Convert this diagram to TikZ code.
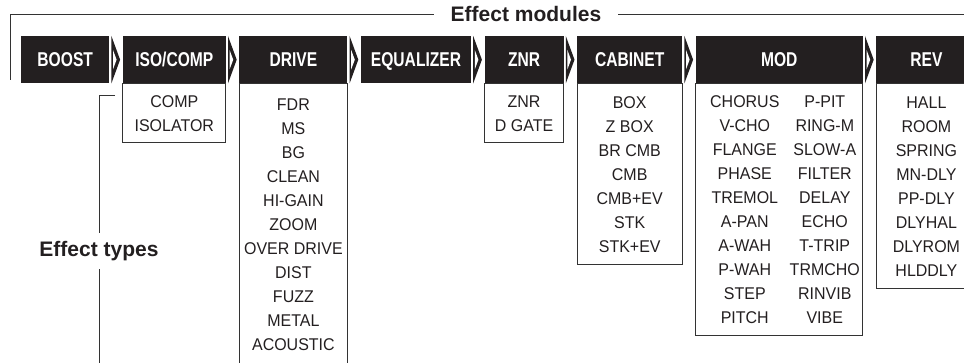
\documentclass[tikz,border=0pt]{standalone}
\usepackage{fontspec}
\setmainfont{Liberation Sans}
\newfontfamily\hdrfont[FakeStretch=0.78]{Liberation Sans}
\newfontfamily\itemfont[FakeStretch=0.94]{Liberation Sans}
\usetikzlibrary{positioning,calc}
\definecolor{hdrblack}{HTML}{231F20}
\definecolor{rulegray}{HTML}{333333}
\newcommand{\pair}[2]{\makebox[167pt]{\makebox[98pt]{#1}\makebox[62pt]{#2}\hspace{7pt}}}
\tikzset{
  modbox/.style={fill=hdrblack, text=white, minimum height=47pt, inner sep=0pt, text height=14.3pt, text depth=0pt,
    font=\hdrfont\fontsize{20}{20}\selectfont\bfseries},
  typebox/.style={draw=rulegray, line width=0.9pt, align=center, inner sep=0pt, text=hdrblack,
    font=\itemfont\fontsize{17}{24}\selectfont},
  title/.style={fill=white, text=hdrblack, inner ysep=8.5pt, font=\fontsize{21}{21}\selectfont\bfseries},
  rule/.style={draw=rulegray, line width=0.9pt}
}

\begin{document}
\begin{tikzpicture}[x=1pt, y=-1pt, node distance=13.2pt]
  \useasboundingbox (0,0) rectangle (964,363);
  % module headers
  \node[modbox, minimum width=88pt, anchor=north west] (boost) at (21,36) {BOOST};
  \node[modbox, minimum width=103pt, right=of boost] (iso) {ISO/COMP};
  \node[modbox, minimum width=108pt, right=of iso] (drive) {DRIVE};
  \node[modbox, minimum width=110pt, right=of drive] (eq) {EQUALIZER};
  \node[modbox, minimum width=79pt, right=of eq] (znr) {ZNR};
  \node[modbox, minimum width=105pt, right=of znr] (cab) {CABINET};
  \node[modbox, minimum width=167pt, right=of cab] (mod) {MOD};
  \node[modbox, minimum width=100pt, right=of mod] (rev) {REV};
  \foreach \a/\b in {boost/iso,iso/drive,drive/eq,eq/znr,znr/cab,cab/mod,mod/rev} {
    \fill[hdrblack] ($(\a.north east)+(2,0)$) -- ($(\b.west)+(-2.5,0)$) -- ($(\a.south east)+(2,0)$) -- cycle;
    \fill[white] ($(\a.north east)+(3.6,14)$) -- ($(\b.west)+(-6,0)$) -- ($(\a.south east)+(3.6,-14)$) -- cycle;
  }
  % effect type lists
  \node[typebox, minimum width=103pt, minimum height=59pt, below=0pt of iso] (isolist) {COMP\\ISOLATOR};
  \node[typebox, minimum width=108pt, minimum height=282pt, below=0pt of drive] (drivelist)
    {FDR\\MS\\BG\\CLEAN\\HI-GAIN\\ZOOM\\OVER DRIVE\\DIST\\FUZZ\\METAL\\ACOUSTIC};
  \node[typebox, minimum width=79pt, minimum height=59pt, below=0pt of znr] (znrlist) {ZNR\\D GATE};
  \node[typebox, minimum width=105pt, minimum height=181pt, below=0pt of cab] (cablist)
    {BOX\\Z BOX\\BR CMB\\CMB\\CMB+EV\\STK\\STK+EV};
  \node[typebox, minimum width=167pt, minimum height=252pt, below=0pt of mod] (modlist)
    {\pair{CHORUS}{P-PIT}\\\pair{V-CHO}{RING-M}\\\pair{FLANGE}{SLOW-A}\\\pair{PHASE}{FILTER}\\
     \pair{TREMOL}{DELAY}\\\pair{A-PAN}{ECHO}\\\pair{A-WAH}{T-TRIP}\\\pair{P-WAH}{TRMCHO}\\
     \pair{STEP}{RINVIB}\\\pair{PITCH}{VIBE}};
  \node[typebox, minimum width=100pt, minimum height=205pt, below=0pt of rev] (revlist)
    {HALL\\ROOM\\SPRING\\MN-DLY\\PP-DLY\\DLYHAL\\DLYROM\\HLDDLY};
  % titles
  \coordinate (bl) at (10,80);
  \coordinate (tl) at (10,14);
  \coordinate (tr) at (970,14);
  \node[title, inner xsep=17pt] (mods) at (526,14) {Effect modules};
  \draw[rule] (bl) -- (tl) -- (mods.west);
  \draw[rule] (mods.east) -- (tr);
  \coordinate (tick) at (115,95);
  \coordinate (corner) at (99,95);
  \coordinate (foot) at (99,370);
  \node[title, inner xsep=4pt] (types) at (99,251) {Effect types};
  \draw[rule] (tick) -- (corner) -- (types.north);
  \draw[rule] (types.south) -- (foot);
\end{tikzpicture}
\end{document}
